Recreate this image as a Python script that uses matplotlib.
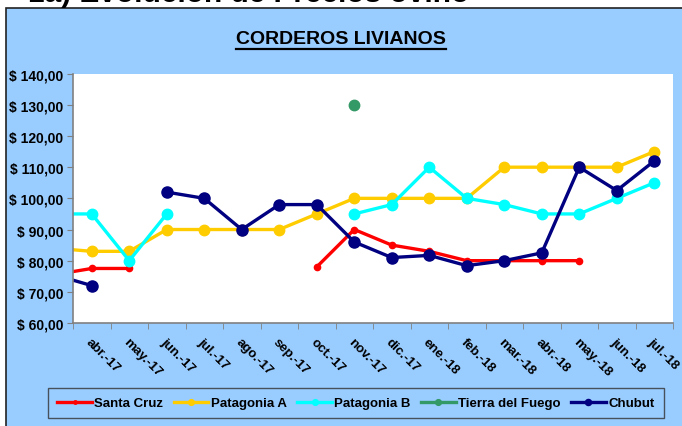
import matplotlib; matplotlib.use("Agg")
import matplotlib.pyplot as plt
from matplotlib.patches import Rectangle
from matplotlib.lines import Line2D
import numpy as np

plt.rcParams["font.family"] = ["Liberation Sans", "DejaVu Sans"]

BG = "#99CCFF"
nan = np.nan

# first category (mar.-17) sits just outside the visible axis range
months = ["mar.-17", "abr.-17", "may.-17", "jun.-17", "jul.-17", "ago.-17", "sep.-17",
          "oct.-17", "nov.-17", "dic.-17", "ene.-18", "feb.-18", "mar.-18", "abr.-18",
          "may.-18", "jun.-18", "jul.-18"]
santa_cruz   = [75.5, 77.5, 77.5, nan, nan, nan, nan, 78, 90, 85, 83, 80, 80, 80, 80, nan, nan]
patagonia_a  = [84, 83, 83, 90, 90, 90, 90, 95, 100, 100, 100, 100, 110, 110, 110, 110, 115]
patagonia_b  = [95, 95, 80, 95, nan, nan, nan, nan, 95, 98, 110, 100, 98, 95, 95, 100, 105]
tierra_fuego = [nan, nan, nan, nan, nan, nan, nan, nan, 130, nan, nan, nan, nan, nan, nan, nan, nan]
chubut       = [75.5, 72, nan, 102, 100, 90, 98, 98, 86, 81, 81.7, 78.4, 80, 82.5, 110, 102.5, 112]

series = [("Santa Cruz", santa_cruz, "#FF0000", 4.5),
          ("Patagonia A", patagonia_a, "#FFCC00", 7.5),
          ("Patagonia B", patagonia_b, "#00FFFF", 7.5),
          ("Tierra del Fuego", tierra_fuego, "#339966", 7.5),
          ("Chubut", chubut, "#000080", 8)]

fig = plt.figure(figsize=(6.82, 4.27), dpi=100)
fig.patch.set_facecolor("white")

# chart area box (runs off the right/bottom of the picture)
fig.add_artist(Rectangle((6/682, -0.1), 1.2, 1.1 - 9/427, transform=fig.transFigure,
                         fc=BG, ec="#222222", lw=1.2, zorder=0))
# heading of the page, mostly cut off at the top
fig.text(28/682, 1 - 2/427, "1a) Evolución de Precios ovino", fontsize=21.5,
         fontweight="bold", ha="left", va="baseline", color="black")

ax = fig.add_axes([73/682, 1 - 324/427, 600/682, 249.3/427])
ax.set_facecolor("white")
x = np.arange(len(months)) - 1
for name, vals, col, ms in series:
    ax.plot(x, vals, color=col, lw=2.4, marker="o", ms=ms, label=name)

ax.set_xlim(-0.5, 15.5)
ax.set_ylim(60, 140)
ax.set_yticks(np.arange(60, 141, 10))
ax.set_yticklabels([f"$ {v:.2f}".replace(".", ",") for v in np.arange(60, 141, 10)],
                   fontsize=10, fontweight="bold")
ax.set_xticks(x[1:])
ax.set_xticklabels(months[1:], rotation=-45, ha="left", va="top", rotation_mode="anchor",
                   fontsize=9.5, fontweight="bold")
ax.tick_params(axis="x", which="major", length=0, pad=9)
ax.set_xticks(np.arange(-0.5, 15.6, 1), minor=True)
ax.tick_params(axis="x", which="minor", length=4, color="#808080", direction="out")
ax.tick_params(axis="y", length=4, color="#808080", pad=3)
for s in ("top", "right"):
    ax.spines[s].set_visible(False)
for s in ("left", "bottom"):
    ax.spines[s].set_color("#808080")
    ax.spines[s].set_linewidth(1.2)

# underlined chart title
t = fig.text(0.5, 1 - 40/427, "CORDEROS LIVIANOS", fontsize=14, fontweight="bold",
             ha="center", va="center")
fig.canvas.draw()
bb = t.get_window_extent().transformed(fig.transFigure.inverted())
fig.add_artist(Line2D([bb.x0, bb.x1], [bb.y0 - 0.003, bb.y0 - 0.003], color="black",
                      lw=1.6, transform=fig.transFigure))

leg = fig.legend(loc="center", bbox_to_anchor=(356/682, 1 - 404/427), ncol=5,
                 frameon=True, fancybox=False, facecolor=BG, edgecolor="#333333",
                 prop={"weight": "bold", "size": 9.5}, markerscale=0.55,
                 handlelength=2.6, handletextpad=0.2, columnspacing=0.8,
                 borderpad=0.7)
leg.get_frame().set_linewidth(1.0)

plt.savefig("out.png", dpi=100, facecolor="white")
